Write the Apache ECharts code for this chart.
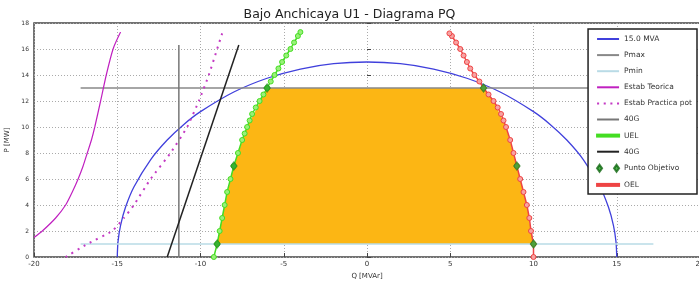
<!DOCTYPE html>
<html>
<head>
<meta charset="utf-8">
<script src="https://cdn.jsdelivr.net/npm/echarts@6/dist/echarts.min.js"></script>
<style>
  html, body { margin: 0; padding: 0; background: #fff; }
  #main { width: 699px; height: 283px; }
</style>
</head>
<body>
<div id="main"></div>
<script>
// capability circle 15 MVA [Q, P]
var circle15 = [[-15, 0], [-14.95, 1.22], [-14.8, 2.44], [-14.5, 3.84], [-14, 5.39], [-13, 7.48],
    [-12, 9], [-11, 10.2], [-10, 11.18], [-8, 12.69], [-6, 13.75], [-4, 14.46], [-2, 14.87],
    [0, 15], [2, 14.87], [4, 14.46], [6, 13.75], [8, 12.69], [10, 11.18], [11, 10.2], [12, 9],
    [13, 7.48], [14, 5.39], [14.5, 3.84], [14.8, 2.44], [14.95, 1.22], [15, 0]];
var pmax = [[-17.2, 13], [17.2, 13]];
var pmin = [[-17.2, 1], [17.2, 1]];
var estabTeorica = [[-20, 1.5], [-19.5, 2], [-18.7, 3], [-18.1, 4], [-17.7, 5], [-17.35, 6],
    [-17.05, 7], [-16.8, 8], [-16.55, 9], [-16.35, 10], [-16.0, 12], [-15.66, 14], [-15.25, 16],
    [-14.8, 17.3]];
var estabPractica = [[-18.1, 0], [-16.8, 1], [-15.3, 2], [-14.6, 3], [-14.0, 4], [-13.0, 6],
    [-11.8, 8], [-10.8, 10], [-10.1, 12], [-9.5, 14], [-9.0, 16], [-8.7, 17.2]];
var g40gray = [[-11.3, 0], [-11.3, 16.3]];
var g40black = [[-12, 0], [-7.7, 16.3]];
var uel = [[-9.2, 0], [-9.0, 1], [-8.85, 2], [-8.7, 3], [-8.55, 4], [-8.4, 5], [-8.2, 6],
    [-8.0, 7], [-7.75, 8], [-7.5, 9], [-7.35, 9.5], [-7.2, 10], [-7.05, 10.5], [-6.9, 11],
    [-6.68, 11.5], [-6.45, 12], [-6.22, 12.5], [-6.0, 13], [-5.78, 13.5], [-5.55, 14],
    [-5.32, 14.5], [-5.1, 15], [-4.85, 15.5], [-4.6, 16], [-4.38, 16.5], [-4.15, 17], [-4.0, 17.3]];
var oel = [[10.0, 0], [10.0, 1], [9.85, 2], [9.75, 3], [9.6, 4], [9.4, 5], [9.2, 6], [9.0, 7],
    [8.8, 8], [8.6, 9], [8.35, 10], [8.2, 10.5], [8.05, 11], [7.85, 11.5], [7.6, 12],
    [7.3, 12.5], [7.0, 13], [6.75, 13.5], [6.45, 14], [6.2, 14.5], [6.0, 15], [5.8, 15.5],
    [5.6, 16], [5.35, 16.5], [5.1, 17], [4.95, 17.2]];
var puntoObjetivo = [[-9, 1], [-8, 7], [-6, 13], [7, 13], [9, 7], [10, 1]];
// operating region outline
var fillQ = [-9, -8.55, -8, -7.2, -6, 7, 7.6, 8.35, 9, 9.6, 9.85, 10];
var fillP = [1, 4, 7, 10, 13, 13, 12, 10, 7, 4, 2, 1];

var xTicks = [-20, 20, 5];
var yTicks = [0, 18, 2];

var lineIcon = 'path://M0,0h22v2h-22z';
var dotIcon = 'path://M0,0h2v2h-2zM6.5,0h2v2h-2zM13,0h2v2h-2zM19.5,0h2v2h-2z';
var diamondIcon = 'path://M2.5,0L5,3.5L2.5,7L0,3.5ZM19.5,0L22,3.5L19.5,7L17,3.5Z';
var font = 'DejaVu Sans';

function lineSeries(name, data, color, width, extra) {
    var s = {
        name: name,
        type: 'line',
        data: data,
        showSymbol: false,
        symbol: 'none',
        lineStyle: { color: color, width: width },
        itemStyle: { color: color },
        animation: false,
        silent: true
    };
    for (var k in extra) s[k] = extra[k];
    return s;
}

var chart = echarts.init(document.getElementById('main'));
chart.setOption({
    animation: false,
    title: {
        text: 'Bajo Anchicaya U1 - Diagrama PQ',
        left: 'center',
        top: 3,
        textStyle: { fontSize: 12.5, fontWeight: 'normal', color: '#222', fontFamily: font }
    },
    legend: {
        orient: 'vertical',
        right: 2,
        top: 29,
        padding: [6, 5, 5, 8],
        itemWidth: 22,
        itemHeight: 8,
        itemGap: 8.1,
        backgroundColor: '#fff',
        borderColor: '#222',
        borderWidth: 1.5,
        textStyle: { fontSize: 7.5, color: '#333', fontFamily: font },
        formatter: function (n) { return n.trim(); },
        data: [
            { name: '15.0 MVA', icon: lineIcon },
            { name: 'Pmax', icon: lineIcon },
            { name: 'Pmin', icon: lineIcon },
            { name: 'Estab Teorica', icon: lineIcon },
            { name: 'Estab Practica pot', icon: dotIcon },
            { name: '40G', icon: lineIcon },
            { name: 'UEL', icon: lineIcon },
            { name: '40G ', icon: lineIcon },
            { name: 'Punto Objetivo', icon: diamondIcon },
            { name: 'OEL', icon: lineIcon }
        ]
    },
    grid: {
        left: 34,
        top: 23,
        right: -1,
        bottom: 26,
        outerBoundsMode: 'none',
        show: true,
        borderColor: '#444',
        borderWidth: 1.5
    },
    xAxis: {
        type: 'value',
        min: xTicks[0],
        max: xTicks[1],
        interval: xTicks[2],
        name: 'Q [MVAr]',
        nameLocation: 'middle',
        nameGap: 15,
        nameTextStyle: { fontSize: 7, color: '#333', fontFamily: font },
        axisLine: { show: false },
        axisTick: { inside: true, length: 4, lineStyle: { color: '#444' } },
        axisLabel: { fontSize: 7, color: '#333', margin: 4, fontFamily: font },
        splitLine: { show: true, lineStyle: { type: [1, 2], color: '#aaa', width: 1 } }
    },
    yAxis: {
        type: 'value',
        min: yTicks[0],
        max: yTicks[1],
        interval: yTicks[2],
        name: 'P [MW]',
        nameLocation: 'middle',
        nameGap: 22,
        nameTextStyle: { fontSize: 7, color: '#333', fontFamily: font },
        axisLine: { show: false },
        axisTick: { inside: true, length: 4, lineStyle: { color: '#444' } },
        axisLabel: { fontSize: 6, color: '#333', margin: 5, fontFamily: font },
        splitLine: { show: true, lineStyle: { type: [1, 2], color: '#aaa', width: 1 } }
    },
    series: [
        {
            name: 'region',
            type: 'custom',
            silent: true,
            z: 1,
            data: [[0, 0]],
            renderItem: function (params, api) {
                var pts = fillQ.map(function (q, i) { return api.coord([q, fillP[i]]); });
                return { type: 'polygon', shape: { points: pts }, style: { fill: '#fcb614' } };
            }
        },
        lineSeries('15.0 MVA', circle15, '#4040dc', 1.3, { smooth: 0.3 }),
        lineSeries('Pmax', pmax, '#888888', 1.5),
        lineSeries('Pmin', pmin, '#b9dbe6', 1.5),
        lineSeries('Estab Teorica', estabTeorica, '#c020c0', 1.2, { smooth: 0.2 }),
        lineSeries('Estab Practica pot', estabPractica, '#c43ac4', 2, {
            smooth: 0.15,
            lineStyle: { color: '#c43ac4', width: 2, type: [2, 5] }
        }),
        lineSeries('40G', g40gray, '#777777', 1.5),
        lineSeries('UEL', uel, '#44dd22', 1.5, {
            showSymbol: true,
            symbol: 'circle',
            symbolSize: 5,
            itemStyle: { color: '#99f07a', borderColor: '#44dd22', borderWidth: 1 }
        }),
        lineSeries('40G ', g40black, '#222222', 1.5),
        lineSeries('OEL', oel, '#ee4444', 1.5, {
            showSymbol: true,
            symbol: 'circle',
            symbolSize: 5,
            itemStyle: { color: '#f7a3a3', borderColor: '#ee4444', borderWidth: 1 }
        }),
        {
            name: 'Punto Objetivo',
            type: 'scatter',
            data: puntoObjetivo,
            symbol: 'diamond',
            symbolSize: [7, 9],
            itemStyle: { color: '#22a022', borderColor: '#116611', borderWidth: 0.5 },
            z: 5,
            silent: true
        }
    ]
});
window.addEventListener('resize', function () { chart.resize(); });
</script>
</body>
</html>
